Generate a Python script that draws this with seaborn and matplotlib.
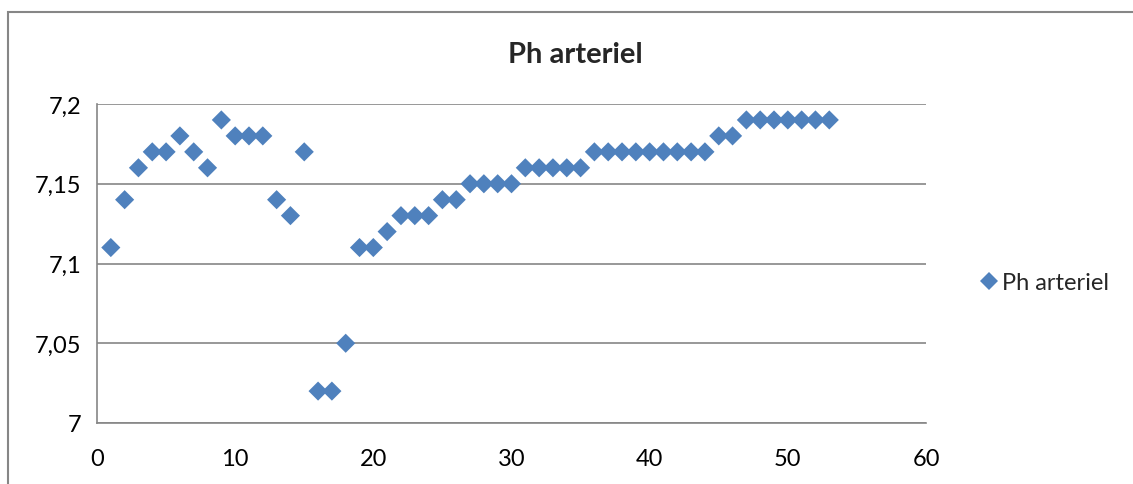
import matplotlib
matplotlib.use("Agg")
import matplotlib.pyplot as plt
from matplotlib.ticker import FuncFormatter, MultipleLocator
from matplotlib.patches import Rectangle
from matplotlib.lines import Line2D
import seaborn as sns
import pandas as pd

# Data
sample_index = list(range(1, 54))
ph_values = [7.11, 7.14, 7.16, 7.17, 7.17, 7.18, 7.17, 7.16, 7.19, 7.18,
             7.18, 7.18, 7.14, 7.13, 7.17, 7.02, 7.02, 7.05, 7.11, 7.11,
             7.12, 7.13, 7.13, 7.13, 7.14, 7.14, 7.15, 7.15, 7.15, 7.15,
             7.16, 7.16, 7.16, 7.16, 7.16, 7.17, 7.17, 7.17, 7.17, 7.17,
             7.17, 7.17, 7.17, 7.17, 7.18, 7.18, 7.19, 7.19, 7.19, 7.19,
             7.19, 7.19, 7.19]
series_name = "Ph arteriel"
title = "Ph arteriel"

df = pd.DataFrame({"x": sample_index, "y": ph_values, "series": series_name})

sns.set_style("white")
plt.rcParams['font.family'] = ['Lato', 'DejaVu Sans']

W, H = 1133, 485
fig = plt.figure(figsize=(W / 100, H / 100), dpi=100)
ax = fig.add_axes([97 / W, 1 - 424 / H, (926 - 97) / W, (424 - 105) / H])

blue = "#4F81BD"
grid = "#868686"

sns.scatterplot(data=df, x="x", y="y", hue="series", palette=[blue],
                marker="D", s=95, linewidth=0, ax=ax, zorder=3, legend=False)

ax.set_xlim(0, 60)
ax.set_ylim(7.0, 7.2)
ax.xaxis.set_major_locator(MultipleLocator(10))
ax.yaxis.set_major_locator(MultipleLocator(0.05))

def comma_fmt(v, pos):
    s = f"{v:.2f}".rstrip("0").rstrip(".")
    return s.replace(".", ",")

ax.yaxis.set_major_formatter(FuncFormatter(comma_fmt))
ax.xaxis.set_major_formatter(FuncFormatter(lambda v, p: f"{int(round(v))}"))

ax.set_xlabel("")
ax.set_ylabel("")
ax.yaxis.grid(True, color=grid, linewidth=1.2)
ax.xaxis.grid(False)
ax.set_axisbelow(True)

for side in ["top", "right"]:
    ax.spines[side].set_visible(False)
for side in ["left", "bottom"]:
    ax.spines[side].set_color(grid)
    ax.spines[side].set_linewidth(1.2)

ax.tick_params(axis="both", which="major", direction="out", length=5,
               width=1.2, color=grid, labelsize=17, labelcolor="black")
ax.tick_params(axis="y", pad=6)
ax.tick_params(axis="x", pad=13)

# Legend
h = Line2D([], [], marker="D", linestyle="none", color=blue, markersize=9,
           markeredgewidth=0)
fig.legend([h], [series_name], loc="center left",
           bbox_to_anchor=(982 / W, 1 - 284 / H), frameon=False,
           fontsize=17, handlelength=0.6, handletextpad=0.25,
           borderaxespad=0, borderpad=0)

fig.text(575 / W, 1 - 55 / H, title, ha="center", va="center",
         fontsize=21, fontweight="bold")

# Outer chart frame
fig.patches.append(Rectangle((8 / W, -0.1), 1.2, 1 - 13 / H + 0.1,
                             transform=fig.transFigure, fill=False,
                             edgecolor=grid, linewidth=1.5, zorder=0))

fig.savefig("out.png", dpi=100)
